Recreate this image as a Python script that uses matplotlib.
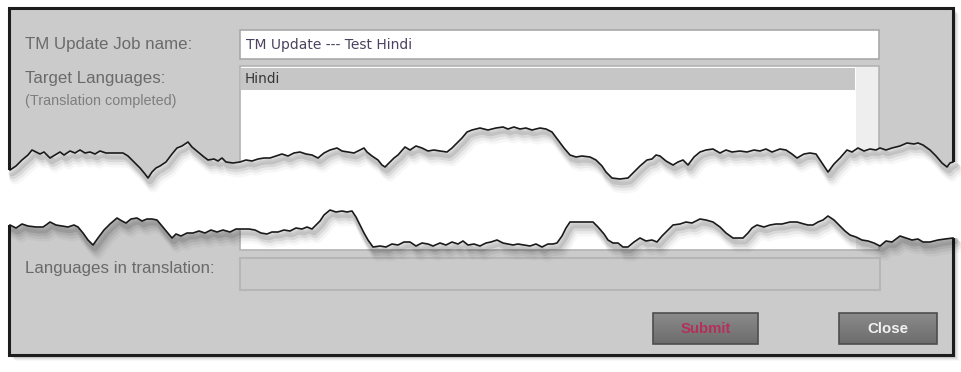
import numpy as np
import matplotlib
matplotlib.use("Agg")
import matplotlib.pyplot as plt
from matplotlib.patches import Rectangle, Polygon
from matplotlib.colors import LinearSegmentedColormap

# Torn edge of the upper piece (pixel coords, y down)
upper_x = [10, 16, 22, 28, 32, 36, 40, 44, 50, 55, 60, 64, 70, 75, 80, 85, 90, 95, 100, 106,
           112, 118, 123, 128, 134, 140, 145, 148, 152, 156, 160, 166, 172, 177, 182, 188, 192, 198,
           204, 208, 214, 218, 222, 226, 233, 240, 246, 252, 258, 264, 270, 276, 282, 288, 294, 300,
           306, 312, 318, 324, 330, 337, 342, 348, 354, 360, 364, 367, 372, 378, 382, 385, 390, 394,
           398, 405, 410, 416, 422, 428, 434, 440, 447, 452, 458, 462, 467, 472, 480, 488, 496, 503,
           508, 514, 520, 526, 532, 540, 546, 552, 558, 564, 570, 576, 582, 590, 596, 602, 606, 612,
           620, 628, 634, 640, 647, 652, 656, 660, 666, 673, 678, 683, 688, 694, 700, 706, 713, 720,
           726, 732, 740, 747, 754, 760, 766, 772, 780, 786, 792, 797, 804, 810, 816, 820, 824, 828,
           834, 840, 847, 852, 858, 864, 870, 876, 880, 886, 892, 900, 907, 914, 918, 923, 930, 936,
           942, 947, 950, 953]
upper_y = [170, 166, 160, 155, 150, 152, 154, 152, 158, 155, 152, 155, 151, 153, 150, 153, 152, 154, 151, 153,
           153, 153, 153, 156, 162, 168, 174, 178, 172, 168, 166, 162, 154, 148, 146, 142, 147, 152,
           157, 160, 159, 161, 158, 162, 163, 162, 160, 161, 159, 158, 158, 156, 154, 156, 153, 152,
           154, 155, 158, 153, 150, 148, 151, 152, 153, 150, 148, 152, 156, 160, 165, 167, 162, 158,
           155, 147, 150, 146, 148, 151, 150, 151, 152, 148, 142, 138, 132, 130, 128, 130, 128, 127,
           129, 127, 129, 128, 130, 128, 129, 132, 140, 148, 155, 157, 156, 157, 160, 166, 172, 178,
           179, 178, 172, 166, 160, 159, 155, 156, 161, 165, 162, 160, 165, 157, 152, 150, 149, 153,
           150, 152, 151, 152, 150, 151, 149, 152, 149, 150, 154, 158, 154, 153, 154, 160, 166, 172,
           164, 158, 150, 152, 148, 151, 149, 150, 148, 150, 148, 146, 143, 144, 143, 145, 150, 156,
           163, 167, 163, 162]

# Torn edge of the lower piece
lower_x = [10, 16, 22, 28, 36, 43, 46, 50, 56, 62, 68, 74, 78, 83, 88, 93, 98, 104, 110, 117,
           122, 126, 131, 137, 142, 147, 152, 157, 162, 167, 172, 176, 181, 187, 193, 199, 205, 211,
           217, 223, 230, 236, 243, 249, 255, 261, 267, 272, 278, 284, 290, 296, 302, 307, 312, 316,
           320, 324, 330, 336, 342, 347, 352, 356, 360, 364, 368, 373, 380, 386, 392, 398, 404, 410,
           416, 422, 428, 433, 440, 446, 452, 458, 463, 468, 474, 480, 486, 491, 497, 503, 508, 513,
           518, 524, 530, 536, 542, 548, 553, 557, 562, 566, 570, 576, 582, 588, 593, 598, 604, 608,
           613, 618, 623, 628, 634, 640, 646, 652, 657, 662, 668, 673, 680, 686, 692, 700, 706, 713,
           720, 726, 733, 738, 743, 748, 752, 757, 764, 770, 776, 782, 790, 797, 804, 808, 813, 818,
           823, 828, 834, 840, 845, 850, 856, 862, 868, 874, 880, 886, 892, 900, 906, 912, 918, 923,
           930, 938, 945, 953]
lower_y = [225, 228, 224, 226, 227, 227, 225, 222, 225, 226, 227, 225, 227, 233, 240, 245, 238, 230, 224, 218,
           221, 223, 219, 218, 221, 219, 219, 220, 226, 232, 238, 234, 236, 233, 233, 231, 233, 230,
           232, 230, 232, 229, 229, 229, 230, 233, 234, 232, 232, 230, 231, 228, 229, 227, 229, 225,
           221, 215, 210, 212, 211, 212, 211, 217, 225, 233, 240, 247, 246, 247, 244, 245, 242, 242,
           246, 243, 244, 246, 243, 245, 242, 244, 241, 245, 244, 246, 243, 242, 240, 243, 244, 245,
           244, 245, 246, 244, 247, 244, 244, 243, 236, 228, 222, 222, 222, 222, 222, 227, 234, 240,
           243, 243, 247, 247, 242, 238, 241, 240, 242, 236, 230, 225, 224, 222, 223, 219, 220, 222,
           227, 233, 238, 238, 238, 233, 228, 225, 227, 225, 224, 224, 222, 222, 224, 225, 225, 222,
           220, 216, 220, 226, 231, 235, 237, 240, 241, 243, 246, 241, 242, 236, 238, 240, 239, 242,
           242, 240, 239, 238]

labels = ["TM Update Job name:", "Target Languages:", "(Translation completed)",
          "Languages in translation:"]
job_name = "TM Update --- Test Hindi"
target_langs = ["Hindi"]
buttons = ["Submit", "Close"]

fig = plt.figure(figsize=(9.61, 3.72), dpi=100)
ax = fig.add_axes([0, 0, 1, 1])
ax.set_xlim(0, 961)
ax.set_ylim(372, 0)
ax.axis("off")
fig.patch.set_facecolor("white")

# dialog shadow
for i, a in enumerate([0.10, 0.08, 0.06, 0.04, 0.03]):
    ax.add_patch(Rectangle((9 + i + 2, 8 + i + 2), 944, 347, facecolor="black", alpha=a, lw=0, zorder=0))
# dialog body
ax.add_patch(Rectangle((9, 8), 944, 347, facecolor="#cbcbcb", edgecolor="#1c1c1c", lw=2.2, zorder=1))

lab_font = ["Liberation Sans", "DejaVu Sans"]
ax.text(25, 45, labels[0], fontsize=12.2, color="#6a6a6a", va="center", family=lab_font, zorder=2)
ax.text(25, 78, labels[1], fontsize=12.2, color="#6a6a6a", va="center", family=lab_font, zorder=2)
ax.text(25, 101, labels[2], fontsize=10.4, color="#7e7e7e", va="center", family=lab_font, zorder=2)
ax.text(25, 269, labels[3], fontsize=12.2, color="#6a6a6a", va="center", family=lab_font, zorder=2)

# job name input
ax.add_patch(Rectangle((240, 30), 639, 29, facecolor="white", edgecolor="#a9a9a9", lw=1.2, zorder=2))
ax.text(246, 45, job_name, fontsize=10.0, color="#4c4260", va="center",
        family=["DejaVu Sans"], zorder=3)

# target languages list
ax.add_patch(Rectangle((240, 66), 639, 184, facecolor="white", edgecolor="#b2b2b2", lw=1.2, zorder=2))
ax.add_patch(Rectangle((856, 67), 22, 182, facecolor="#eeeeee", lw=0, zorder=2))
for i, lang in enumerate(target_langs):
    ax.add_patch(Rectangle((241, 68 + i * 22), 614, 22, facecolor="#c6c6c6", lw=0, zorder=2))
    ax.text(245, 79 + i * 22, lang, fontsize=9.8, color="#363636", va="center",
            family=["DejaVu Sans"], zorder=3)

# languages in translation field
ax.add_patch(Rectangle((240, 258), 640, 32, facecolor="#cacaca", edgecolor="#b6b6b6", lw=1.5, zorder=2))

# buttons
grad = np.linspace(0, 1, 30).reshape(-1, 1)
cm = LinearSegmentedColormap.from_list("btn", ["#8a8a8a", "#6d6d6d"])
for (x0, w), lbl, col in zip([(653, 105), (839, 98)], buttons, ["#b4305a", "#f2f2f2"]):
    ax.imshow(grad, cmap=cm, extent=(x0, x0 + w, 344, 313), aspect="auto", zorder=2)
    ax.add_patch(Rectangle((x0, 313), w, 31, facecolor="none", edgecolor="#4d4d4d", lw=1.2, zorder=3))
    ax.text(x0 + w / 2, 329, lbl, fontsize=10.8, color=col, ha="center", va="center",
            fontweight="bold", family=lab_font, zorder=4)

ax.set_xlim(0, 961)
ax.set_ylim(372, 0)

# the tear: white gap between the two ragged edges
gx = [0] + upper_x + [961, 961] + lower_x[::-1] + [0]
gy = [upper_y[0]] + upper_y + [upper_y[-1], lower_y[-1]] + lower_y[::-1] + [lower_y[0]]
gap = Polygon(np.column_stack([gx, gy]), closed=True, facecolor="white", lw=0, zorder=5)
ax.add_patch(gap)

lx = [0] + lower_x + [961, 961, 0]
ly = [lower_y[0]] + lower_y + [lower_y[-1], 372, 372]
below = Polygon(np.column_stack([lx, ly]), closed=True, facecolor="none", lw=0, zorder=0)
ax.add_patch(below)

ux = np.array(upper_x)
uy = np.array(upper_y)
wx = np.array(lower_x)
wy = np.array(lower_y)
for dx, dy, lw, a in [(2, 3, 5, 0.10), (3, 5, 6, 0.07), (4, 7, 7, 0.05), (5, 9, 8, 0.03)]:
    s1, = ax.plot(ux + dx, uy + dy, color="black", lw=lw, alpha=a, zorder=6, solid_capstyle="round")
    s1.set_clip_path(gap)
    s2, = ax.plot(wx + dx, wy + dy, color="black", lw=lw, alpha=a, zorder=6, solid_capstyle="round")
    s2.set_clip_path(below)

ax.plot(upper_x, upper_y, color="#1a1a1a", lw=1.2, zorder=7)
ax.plot(lower_x, lower_y, color="#1a1a1a", lw=1.2, zorder=7)

fig.savefig("out.png", dpi=100)
